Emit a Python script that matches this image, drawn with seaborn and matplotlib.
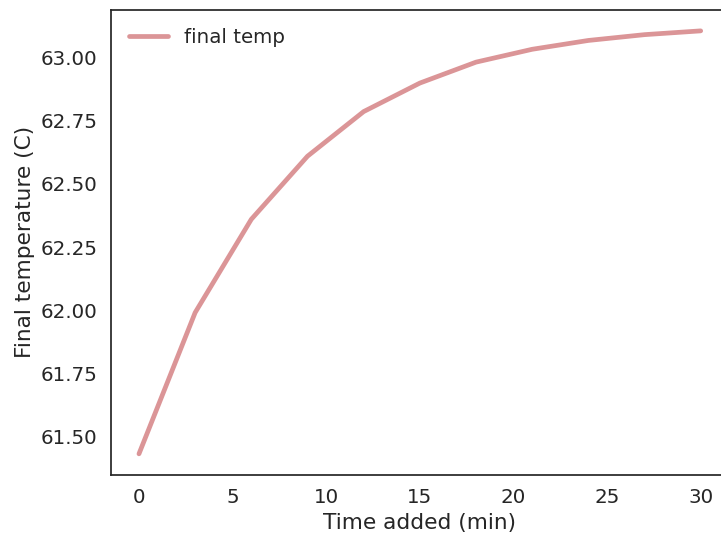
import matplotlib
matplotlib.use("Agg")
import matplotlib.pyplot as plt
import seaborn as sns
import pandas as pd

# Minutes of heating added and the resulting final temperature
time_added = [0, 3, 6, 9, 12, 15, 18, 21, 24, 27, 30]
final_temp = [61.43, 61.99, 62.36, 62.61, 62.787, 62.90, 62.983, 63.034, 63.069, 63.092, 63.107]

sns.set_theme(style="white", context="notebook", font_scale=1.3)
plt.rcParams["font.family"] = ["DejaVu Sans"]

df = pd.DataFrame({"time": time_added, "temp": final_temp})

fig = plt.figure(figsize=(7.21, 5.34), dpi=100)
ax = fig.add_axes([0.1538, 0.1105, 0.857, 0.8713])
sns.lineplot(data=df, x="time", y="temp", ax=ax, color="#c44e52", alpha=0.6,
             linewidth=3.4, label="final temp", solid_capstyle="round")
for s in ax.spines.values():
    s.set_color("#262626")
    s.set_linewidth(1.25)
ax.set_xlabel("Time added (min)")
ax.set_ylabel("Final temperature (C)")
ax.set_xticks([0, 5, 10, 15, 20, 25, 30])
ax.set_yticks([61.5, 61.75, 62.0, 62.25, 62.5, 62.75, 63.0])
ax.set_yticklabels(["61.50", "61.75", "62.00", "62.25", "62.50", "62.75", "63.00"])
ax.legend(loc="upper left", frameon=False)
fig.savefig("out.png", dpi=100)
